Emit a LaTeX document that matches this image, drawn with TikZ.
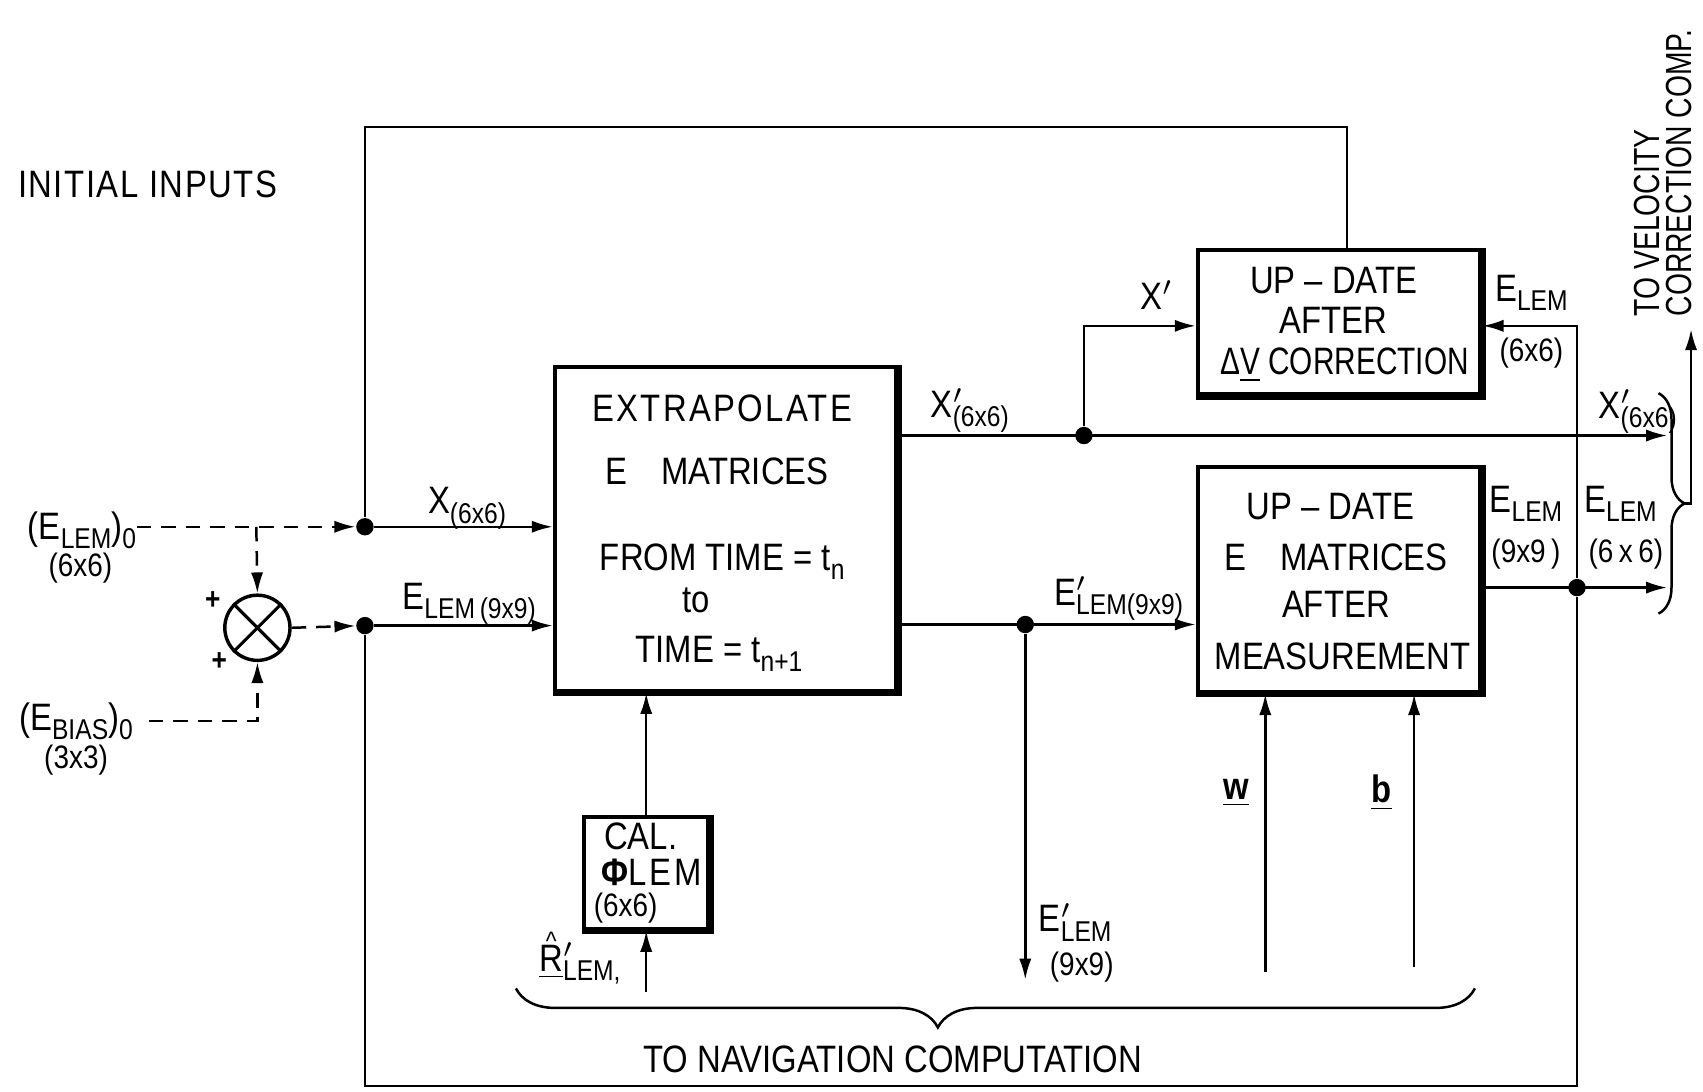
\documentclass[tikz,border=0pt]{standalone}
\usepackage{fontspec}
\setmainfont{Liberation Sans}[FakeStretch=0.86]
\newfontfamily\tallfont{Liberation Sans}[FakeStretch=0.78]
\usetikzlibrary{arrows.meta,decorations.pathreplacing,positioning}

\newcommand{\lo}[1]{\raisebox{-0.45ex}{\fontsize{7.5}{8}\selectfont #1}}
\newcommand{\pr}{\rlap{$^{\prime}$}}
\newcommand{\hatR}{\ooalign{\underline{R}\cr\hidewidth\raisebox{5.5pt}{\fontsize{7}{7}\selectfont\textasciicircum}\hidewidth\cr}}

\tikzset{
  blok/.style={draw, line width=1.1pt, inner sep=0pt},
  flow/.style={line width=0.65pt, -{Latex[length=5.5pt,width=3.2pt]}},
  feed/.style={line width=0.65pt},
  dflow/.style={line width=0.65pt, dash pattern=on 3.8pt off 2.6pt, -{Latex[length=5.5pt,width=3.2pt]}},
  dot/.style={circle, fill, inner sep=0pt, minimum size=0.16cm},
  txt/.style={inner sep=0pt, font=\fontsize{10}{12}\selectfont},
  sml/.style={inner sep=0pt, font=\fontsize{8.5}{10}\selectfont},
}

\begin{document}
\begin{tikzpicture}[x=0.01cm,y=-0.01cm]
\useasboundingbox (0,0) rectangle (1568,1005);

% blocks
\node[blok, minimum width=3.14cm, minimum height=2.98cm] (extr) at (668,487) {};
\node[blok, minimum width=2.60cm, minimum height=1.33cm] (updv) at (1233,296.5) {};
\node[blok, minimum width=2.60cm, minimum height=2.07cm] (updm) at (1233,533.5) {};
\node[blok, minimum width=1.14cm, minimum height=1.03cm] (cal) at (595,803.5) {};
\foreach \b in {extr,updv,updm,cal}
  \draw[line width=1.8pt] (\b.north east) |- (\b.south west);

% block texts
\node[txt] (ex1) at (665,376) {\addfontfeature{LetterSpace=6}EXTRAPOLATE};
\node[txt] (ex2) at (660,434) {E\hspace{0.9em}MATRICES};
\node[txt] (ex3) at (665,517) {FROM TIME = t\lo{n}};
\node[txt] (ex4) at (641,553) {to};
\node[txt] (ex5) at (662,602) {TIME = t\lo{n+1}};

\node[txt] (uv1) at (1228,258) {UP -- DATE};
\node[txt] (uv2) at (1228,295) {AFTER};
\node[txt, font=\tallfont\fontsize{10}{12}\selectfont] (uv3) at (1238,336) {Δ\underline{V} CORRECTION};

\node[txt] (um1) at (1225,466) {UP -- DATE};
\node[txt] (um2) at (1230,513) {E\hspace{0.9em}MATRICES};
\node[txt] (um3) at (1230,556) {AFTER};
\node[txt] (um4) at (1236,604) {MEASUREMENT};

\node[txt] (ca1) at (590,770) {CAL.};
\node[txt] (ca2) at (600,803) {\textbf{Φ}\addfontfeature{LetterSpace=8}LEM};
\node[sml] (ca3) at (576,836) {(6x6)};

% summing junction
\node[draw, circle, line width=0.9pt, minimum size=0.6cm, inner sep=0pt] (sum) at (237,578) {};
\draw[line width=0.8pt] (sum.north west) -- (sum.south east) (sum.north east) -- (sum.south west);
\node[sml, font=\bfseries\fontsize{8}{8}\selectfont] (p1) at (196,553) {+};
\node[sml, font=\bfseries\fontsize{8}{8}\selectfont] (p2) at (202,609) {+};

% junctions
\node[dot] (jx) at (336,485) {};
\node[dot] (je) at (336,576) {};
\node[dot] (jxp) at (998,401) {};
\node[dot] (jep) at (944,575) {};
\node[dot] (jo) at (1452,541) {};

\coordinate (xout) at (1535,401);
\coordinate (eout) at (1535,541);
\coordinate (epout) at (944,902);
\coordinate (rin) at (595,913);
\coordinate (win) at (1165,895);
\coordinate (bin) at (1302,890);
\coordinate (elin) at (1452,300);
\coordinate (fbot) at (1452,1000);
\coordinate (ftop) at (1240,117);
\coordinate (br) at (236,485);
\coordinate (btip) at (1551,463.5);
\coordinate (vcout) at (1557,303);

% initial inputs
\node[txt, anchor=east] (e0) at (126,488) {(E\lo{LEM})\lo{0}};
\node[sml] (e0s) at (74,523) {(6x6)};
\node[txt, anchor=east] (eb) at (123,664) {(E\lo{BIAS})\lo{0}};
\node[sml] (ebs) at (70,700) {(3x3)};

\draw[dflow] (e0.east |- jx) -- (jx);
\draw[dflow] (br) -- (sum.north);
\draw[dflow] ([xshift=0.14cm]eb.east) -| (sum.south);
\draw[dflow] (sum.east) -- (je);

% connectors
\draw[flow] (jx) -- (extr.west |- jx);
\draw[flow] (je) -- (extr.west |- je);
\draw[feed] (updv.north -| ftop) -- (ftop) -| (jx);
\draw[flow] (extr.east |- jxp) -- (xout);
\draw[flow] (jxp) |- (updv.west |- elin);
\draw[flow] (extr.east |- jep) -- (updm.west |- jep);
\draw[flow] (jep) -- (epout);
\draw[flow] (updm.east |- jo) -- (eout);
\draw[flow] (jo) -- (elin) -- (updv.east |- elin);
\draw[feed] (jo) -- (fbot) -| (je);
\draw[flow] (cal.north) -- (cal.north |- extr.south);
\draw[flow] (rin) -- (cal.south);
\draw[flow] (win) -- (win |- updm.south);
\draw[flow] (bin) -- (bin |- updm.south);

% labels
\node[txt] (lx) at (430,468) {X\lo{(6x6)}};
\node[txt] (le) at (432,556) {E\lo{LEM\,(9x9)}};
\node[txt] (lxp) at (893,378) {X\pr\lo{(6x6)}};
\node[txt] (lep) at (1030,551) {E\pr\lo{LEM(9x9)}};
\node[txt] (lxv) at (1065,272) {X$^{\prime}$};
\node[txt] (lev) at (1410,270) {E\lo{LEM}};
\node[sml] (levs) at (1410,325) {(6x6)};
\node[txt] (lxo) at (1508,379) {X\pr\lo{(6x6)}};
\node[txt] (lem9) at (1405,464) {E\lo{LEM}};
\node[sml] (lem9s) at (1405,510) {(9x9\,)};
\node[txt] (lem6) at (1492,464) {E\lo{LEM}};
\node[sml] (lem6s) at (1497,510) {(6\,x\,6)};
\node[txt] (lepo) at (990,849) {E\pr\lo{LEM}};
\node[sml] (lepos) at (996,890) {(9x9)};
\node[txt] (lw) at (1138,730) {\underline{\textbf{w}}};
\node[txt] (lb) at (1272,730) {\underline{\textbf{b}}};
\node[txt] (lr) at (534,887) {\hatR\pr\lo{LEM,}};
\node[txt] (lin) at (136,170) {\addfontfeature{LetterSpace=4}INITIAL INPUTS};
\node[txt] (lnav) at (822,975) {TO NAVIGATION COMPUTATION};
\node[txt, rotate=90, anchor=west, align=left, font=\tallfont\fontsize{9.5}{8.4}\selectfont] (lvel) at (1531,292) {TO VELOCITY\\CORRECTION COMP.};

% braces
\draw[feed, decorate, decoration={brace, amplitude=0.36cm, aspect=0.56}] (1358,910) -- (475,910);
\draw[feed, decorate, decoration={brace, amplitude=0.24cm}] (1527,362) -- (1527,565);
\draw[flow] (btip) -| (vcout);
\end{tikzpicture}
\end{document}
